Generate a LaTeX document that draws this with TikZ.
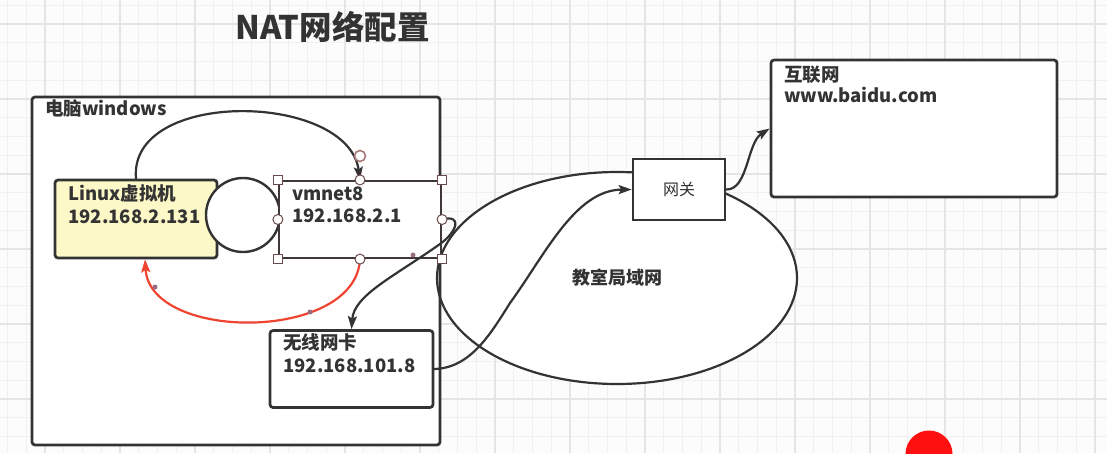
\documentclass[tikz,border=0pt]{standalone}
\usepackage{fontspec}
\setmainfont{Noto Sans CJK SC}
\usetikzlibrary{arrows.meta,shapes.geometric}
\definecolor{ink}{HTML}{333333}
\definecolor{gridminor}{HTML}{F0F0F0}
\definecolor{gridmajor}{HTML}{E5E5E5}
\definecolor{linuxfill}{HTML}{FCF8C8}
\definecolor{redline}{HTML}{EE4430}
\definecolor{handle}{HTML}{6A4A4A}
\definecolor{handlepink}{HTML}{A87878}
\definecolor{dotc}{HTML}{9B6B80}
\definecolor{blob}{HTML}{FF1010}
\begin{document}
\begin{tikzpicture}[x=1pt,y=-1pt,
  box/.style={draw=ink, line width=2.7, rounded corners=3, inner sep=0, fill=white},
  selbox/.style={draw=ink!80!handle, line width=2.2, inner sep=0, fill=white},
  plainbox/.style={draw=ink, line width=2.7, inner sep=0, fill=white},
  lbl/.style={anchor=base west, inner sep=0, font=\bfseries\fontsize{18.5}{22}\selectfont, text=ink},
  conn/.style={draw=ink, line width=2.2, line cap=round},
  tip/.style={-{Stealth[length=13,width=9,inset=2.5]}},
  sqh/.style={draw=handle, fill=white, line width=1, minimum size=9, inner sep=0, rectangle},
  cih/.style={draw=handle, fill=white, line width=1, minimum size=10, inner sep=0, circle},
  dotm/.style={fill=dotc, circle, minimum size=5, inner sep=0},
  lanshape/.style={ellipse, minimum width=360, minimum height=212, inner sep=0}
]
\useasboundingbox (0,0) rectangle (1107,453);
\fill[white!99!black] (0,0) rectangle (1107,453);
% grid
\foreach \i in {0,...,59} {
  \pgfmathsetmacro\gx{7.5+18.75*\i}
  \draw[gridminor, line width=1.2] (\gx,0) -- (\gx,453);
}
\foreach \i in {0,...,24} {
  \pgfmathsetmacro\gy{5.25+18.75*\i}
  \draw[gridminor, line width=1.2] (0,\gy) -- (1107,\gy);
}
\foreach \i in {0,...,14} {
  \pgfmathsetmacro\gx{45+75*\i}
  \draw[gridmajor, line width=1.4] (\gx,0) -- (\gx,453);
}
\foreach \i in {0,...,5} {
  \pgfmathsetmacro\gy{24+75*\i}
  \draw[gridmajor, line width=1.4] (0,\gy) -- (1107,\gy);
}

% title
\node[anchor=base west, inner sep=0, font=\bfseries\fontsize{32.5}{36}\selectfont, text=ink] (title) at (235,39) {NAT网络配置};

% LAN ellipse fill, then outer PC box
\node[lanshape, fill=white] (lanfill) at (617,278) {};
\node[box, minimum width=408, minimum height=348] (pc) at (236,271) {};
\node[lbl] (pclbl) at (45,115) {电脑windows};

% LAN ellipse outline and label
\node[lanshape, draw=ink, line width=2.2, font=\bfseries\fontsize{18}{20}\selectfont, text=ink] (lan) at (617,278) {\raisebox{-1pt}{教室局域网}};

% Linux VM box
\node[box, fill=linuxfill, minimum width=162, minimum height=78] (linux) at (136,219) {};
\node[lbl] (linuxl1) at (68,200) {Linux虚拟机};
\node[lbl] (linuxl2) at (68,223) {192.168.2.131};

% circle between
\node[circle, draw=ink, line width=2.4, fill=white, minimum size=74, inner sep=0] (ring) at (243,215) {};

% vmnet8 box
\node[selbox, minimum width=162, minimum height=77] (vm) at (360,219.5) {};
\node[lbl] (vml1) at (292,200) {vmnet8};
\node[lbl] (vml2) at (292,222) {192.168.2.1};

% wireless card box
\node[box, minimum width=163, minimum height=77] (wifi) at (351.5,369) {};
\node[lbl] (wifil1) at (283,349) {无线网卡};
\node[lbl] (wifil2) at (283,372) {192.168.101.8};

% gateway box
\node[plainbox, minimum width=92, minimum height=61, font=\fontsize{16}{18}\selectfont, text=ink] (gw) at (679,189.5) {网关};

% internet box
\node[box, minimum width=286, minimum height=137] (inet) at (914,128.5) {};
\node[lbl] (inetl1) at (784,81) {互联网};
\node[lbl] (inetl2) at (784,102) {www.baidu.com};

% connectors
\draw[conn, tip] (linux.north) .. controls (128,88) and (348,92) .. (vm.north);
\draw[conn, draw=redline, -{Stealth[length=13,width=9,inset=2.5]}, redline]
  (vm.south) .. controls (356,342) and (150,342) .. ([xshift=9]linux.south);
\draw[conn, tip] (vm.east) .. controls (463,214) and (457,232) .. (440,244)
  .. controls (395,276) and (354,295) .. (wifi.north);
\draw[conn, tip] (wifi.east) .. controls (470,368) and (490,335) .. (510,303)
  .. controls (545,255) and (575,190) .. (gw.west);
\draw[conn, tip] (gw.east) .. controls (748,190) and (747,143) .. (inet.west);

% selection handles on vmnet8
\node[sqh] (h1) at (vm.north west) {};
\node[sqh] (h2) at (vm.north east) {};
\node[sqh] (h3) at (vm.south west) {};
\node[sqh] (h4) at (vm.south east) {};
\node[cih] (h5) at (vm.north) {};
\node[cih] (h6) at (vm.south) {};
\node[cih] (h7) at (vm.west) {};
\node[cih] (h8) at (vm.east) {};
\node[circle, draw=handlepink, fill=white, line width=1.6, minimum size=11, inner sep=0] (h9) at (360,156) {};

% small markers on connectors
\node[dotm] (d1) at (155,287) {};
\node[dotm] (d2) at (310,312) {};
\node[dotm] (d3) at (413,255) {};

% red blob at bottom right
\fill[blob] (929,454) circle (23.5);
\end{tikzpicture}
\end{document}
